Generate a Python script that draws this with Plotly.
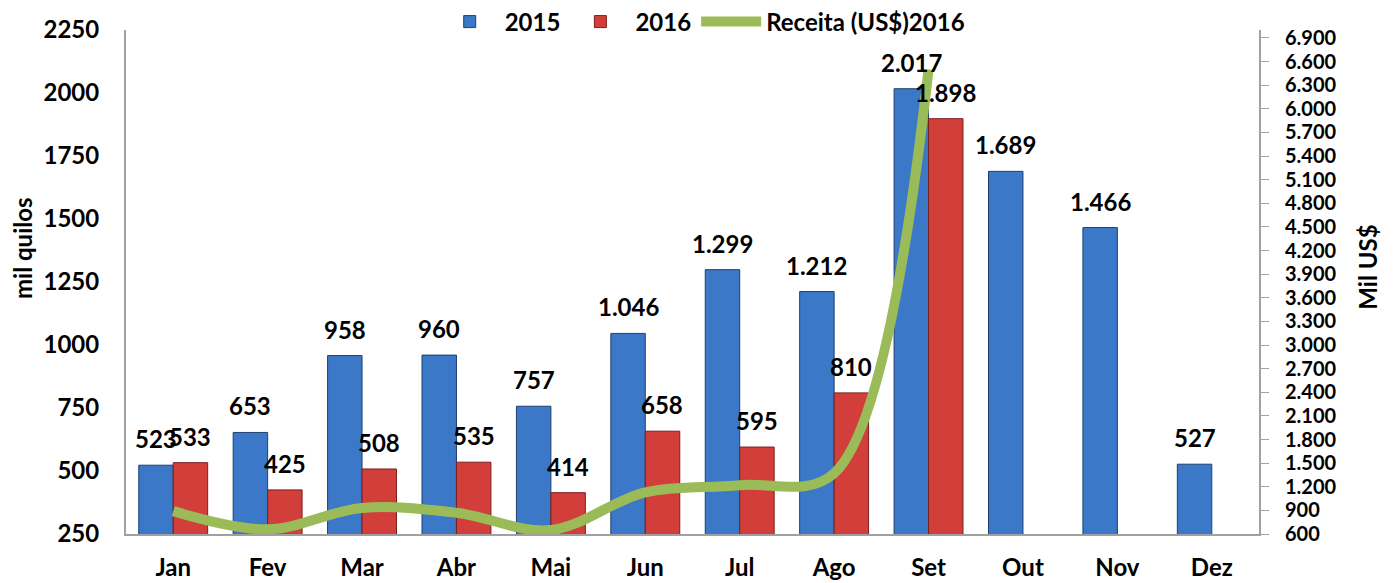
import plotly.graph_objects as go

months = ["Jan", "Fev", "Mar", "Abr", "Mai", "Jun", "Jul", "Ago", "Set", "Out", "Nov", "Dez"]
v2015 = [523, 653, 958, 960, 757, 1046, 1299, 1212, 2017, 1689, 1466, 527]
v2016 = [533, 425, 508, 535, 414, 658, 595, 810, 1898, None, None, None]
receita2016 = [890, 660, 930, 870, 650, 1130, 1220, 1370, 6500, None, None, None]

left_ticks = [250, 500, 750, 1000, 1250, 1500, 1750, 2000, 2250]
right_ticks = list(range(600, 7000, 300))

FONT = "Lato"
BLUE = "#3C78C8"
RED = "#D23F3B"
GREEN = "#9BBB59"

fig = go.Figure()
fig.add_trace(go.Bar(x=months, y=v2015, name="2015",
                     marker=dict(color=BLUE, line=dict(color="#1F3F6E", width=1))))
fig.add_trace(go.Bar(x=months, y=v2016, name="2016",
                     marker=dict(color=RED, line=dict(color="#7A1F1D", width=1))))
fig.add_trace(go.Scatter(x=months, y=receita2016, name="Receita (US$)2016", yaxis="y2",
                         mode="lines", line=dict(color=GREEN, width=10, shape="spline", smoothing=1),
                         connectgaps=False, cliponaxis=False))

annotations = []
half = 17.2
for series, shift in ((v2015, -half), (v2016, half)):
    for m, v in zip(months, series):
        if v is None:
            continue
        annotations.append(dict(x=m, y=v, xref="x", yref="y", text=f"{v:,}".replace(",", "."),
                                showarrow=False, xanchor="center", yanchor="bottom",
                                xshift=shift, yshift=10,
                                font=dict(family=FONT, size=24, color="black", weight="bold")))

annotations.append(dict(x=-0.092, y=0.567, xref="paper", yref="paper", text="mil quilos",
                        textangle=-90, showarrow=False, xanchor="center", yanchor="middle",
                        font=dict(family=FONT, size=24, color="black", weight="bold")))
annotations.append(dict(x=1.096, y=0.53, xref="paper", yref="paper", text="Mil US$",
                        textangle=-90, showarrow=False, xanchor="center", yanchor="middle",
                        font=dict(family=FONT, size=24, color="black", weight="bold")))

fig.update_layout(
    width=1396, height=583, autosize=False,
    margin=dict(l=126, r=137, t=30, b=49, autoexpand=False),
    paper_bgcolor="white", plot_bgcolor="white",
    separators=",.",
    font=dict(family=FONT, size=24, color="black", weight="bold"),
    barmode="group", bargap=0.27, bargroupgap=0,
    showlegend=True,
    legend=dict(orientation="h", x=0.503, xanchor="center", xref="container",
                y=1 - 22 / 583, yanchor="middle", yref="container",
                font=dict(family=FONT, size=24, color="black", weight="bold"),
                bgcolor="rgba(0,0,0,0)", traceorder="normal", itemwidth=60),
    xaxis=dict(showline=True, linecolor="#A0A0A0", linewidth=2, ticks="",
               showgrid=False, ticklabelstandoff=11, automargin=False,
               tickfont=dict(family=FONT, size=24, color="black", weight="bold")),
    yaxis=dict(range=[250, 2250], tickvals=left_ticks, tickformat="d",
               showline=True, linecolor="#A0A0A0", linewidth=2, ticks="",
               showgrid=False, zeroline=False, ticklabelstandoff=20, automargin=False,
               tickfont=dict(family=FONT, size=24, color="black", weight="bold")),
    yaxis2=dict(range=[600, 7000], tickvals=right_ticks, tickformat=",d",
                overlaying="y", side="right", automargin=False,
                showline=True, linecolor="#A0A0A0", linewidth=2,
                ticks="outside", ticklen=8, tickcolor="#A0A0A0", tickwidth=1,
                showgrid=False, zeroline=False, ticklabelstandoff=12,
                tickfont=dict(family=FONT, size=20, color="black", weight="bold")),
    annotations=annotations,
)

fig.write_html("out.html", config={"displayModeBar": False},
               post_script="document.body.style.margin='0';document.body.style.overflow='hidden';")
